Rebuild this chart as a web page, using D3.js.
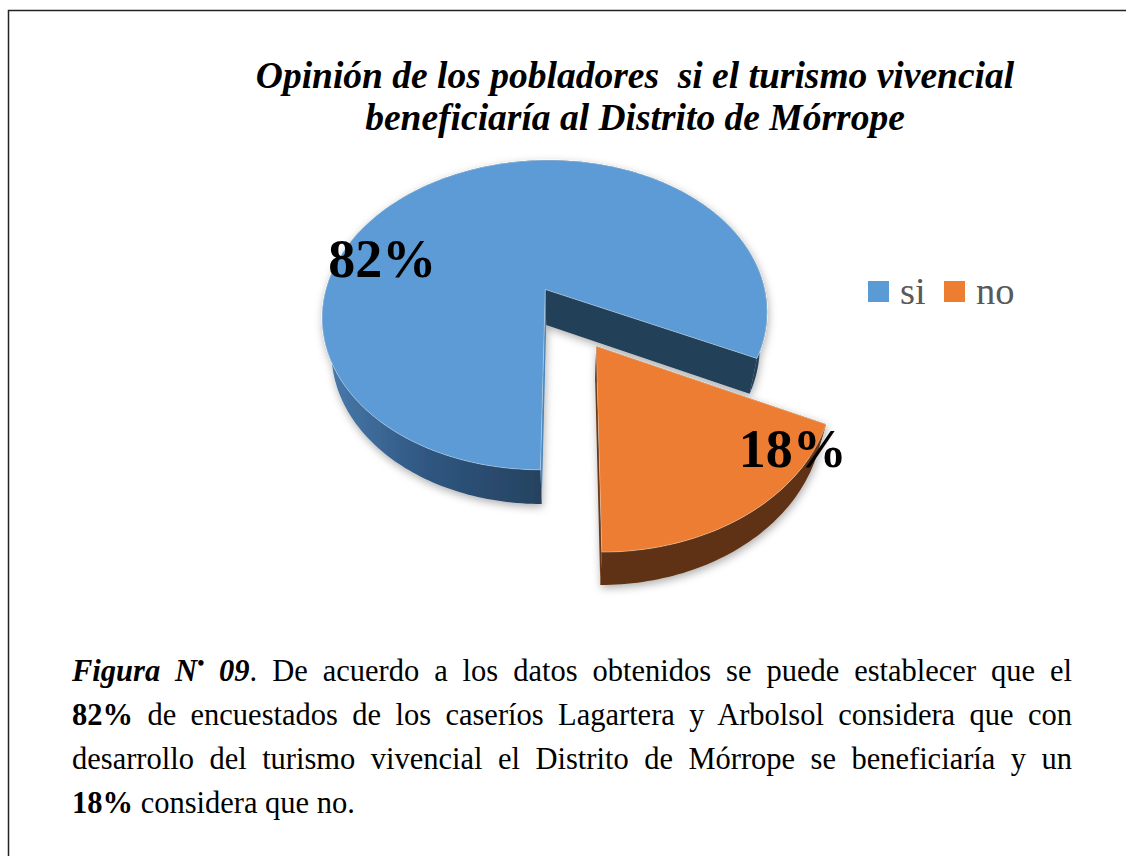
<!DOCTYPE html>
<html>
<head>
<meta charset="utf-8">
<script src="https://cdn.jsdelivr.net/npm/d3@7"></script>
<style>
  body { margin: 0; background: #fff; }
  svg { display: block; font-family: 'Liberation Serif', 'Times New Roman', serif; }
</style>
</head>
<body>
<svg width="1126" height="856"></svg>
<script>
  const titleLines = ['Opinión de los pobladores  si el turismo vivencial', 'beneficiaría al Distrito de Mórrope'];
  const categories = ['si', 'no'];
  const values = [82, 18];
  const valueLabels = ['82%', '18%'];

  // caption text, split in runs: r = regular, b = bold, bi = bold italic, sup = raised mark
  const captionLines = [
    [['Figura N', 'bi'], ['•', 'sup'], [' 09', 'bi'], ['. De acuerdo a los datos obtenidos se puede establecer que el', 'r']],
    [['82%', 'b'], [' de encuestados de los caseríos Lagartera y Arbolsol considera que con', 'r']],
    [['desarrollo del turismo vivencial el Distrito de Mórrope se beneficiaría y un', 'r']],
    [['18%', 'b'], [' considera que no.', 'r']]
  ];

  const topColors = ['#5b9bd5', '#ed7d31'];
  const wallColors = ['url(#blueWall)', '#5e3214'];
  const cutColors = ['#243f58', '#6a3816'];

  const svg = d3.select('svg');
  const width = +svg.attr('width');
  const height = +svg.attr('height');

  //frame round the figure (runs off the right and bottom)
  svg.append('rect')
    .attr('x', 8.5).attr('y', 10.5)
    .attr('width', width + 100).attr('height', height + 100)
    .attr('fill', 'none').attr('stroke', '#222').attr('stroke-width', 1.5);

  const defs = svg.append('defs');
  const grad = defs.append('linearGradient')
    .attr('id', 'blueWall')
    .attr('gradientUnits', 'userSpaceOnUse')
    .attr('x1', 320).attr('x2', 560).attr('y1', 0).attr('y2', 0);
  grad.append('stop').attr('offset', '0%').attr('stop-color', '#4a7cae');
  grad.append('stop').attr('offset', '45%').attr('stop-color', '#2f5680');
  grad.append('stop').attr('offset', '100%').attr('stop-color', '#243f5a');

  const shadow = defs.append('filter').attr('id', 'shadow')
    .attr('x', '-20%').attr('y', '-20%').attr('width', '140%').attr('height', '140%');
  shadow.append('feDropShadow')
    .attr('dx', 1).attr('dy', 3).attr('stdDeviation', 4)
    .attr('flood-color', '#000').attr('flood-opacity', 0.32);

  //Title
  svg.append('g').selectAll('text').data(titleLines)
    .enter().append('text')
      .attr('x', 635)
      .attr('y', (d, i) => 88 + i * 42)
      .attr('text-anchor', 'middle')
      .attr('font-size', 37.5)
      .attr('font-weight', 'bold')
      .attr('font-style', 'italic')
      .attr('xml:space', 'preserve')
      .style('white-space', 'pre')
      .text(d => d);

  // 3d pie: a tilted disc seen with some perspective
  const cam = { cx: 570, cy: 317, s: 226, tilt: 45 * Math.PI / 180, persp: 0.24 };
  const depth = 0.23;     //disc thickness (radius = 1)
  const explode = 0.21;   //each slice pulled out along its mid angle

  const project = (X, Y, Z) => {
    const c = Math.cos(cam.tilt), sn = Math.sin(cam.tilt);
    const w = 1 + cam.persp * (Z * c - Y * sn);
    return [cam.cx + cam.s * X / w, cam.cy - cam.s * (Z * sn + Y * c) / w];
  };

  const pie = d3.pie().sort(null).value(d => d)
    .startAngle(Math.PI).endAngle(3 * Math.PI);
  const arcs = pie(values);

  const line = d3.line();
  const poly = pts => line(pts) + 'Z';

  const slices = arcs.map((a, i) => {
    const mid = (a.startAngle + a.endAngle) / 2;
    const ox = explode * Math.sin(mid), oz = explode * Math.cos(mid);
    const pt = (ang, r, Y) => project(ox + r * Math.sin(ang), Y, oz + r * Math.cos(ang));
    const n = Math.max(8, Math.round((a.endAngle - a.startAngle) / 0.02));
    const angs = d3.range(n + 1).map(k => a.startAngle + (a.endAngle - a.startAngle) * k / n);
    const topArc = angs.map(t => pt(t, 1, 0));
    const botArc = angs.map(t => pt(t, 1, -depth));
    const cut = ang => poly([pt(ang, 0, 0), pt(ang, 1, 0), pt(ang, 1, -depth), pt(ang, 0, -depth)]);
    return {
      i, oz, pt,
      outer: poly(topArc.concat(botArc.reverse())),
      cutStart: cut(a.startAngle),
      cutEnd: cut(a.endAngle),
      top: poly([pt(0, 0, 0)].concat(topArc))
    };
  });

  // farther slice first
  const pieG = svg.append('g');
  slices.slice().sort((a, b) => b.oz - a.oz).forEach(sl => {
    const g = pieG.append('g').attr('filter', 'url(#shadow)');
    g.append('path').attr('d', sl.outer).attr('fill', wallColors[sl.i]);
    g.append('path').attr('d', sl.cutStart).attr('fill', sl.i === 0 ? '#4d86bb' : cutColors[1]);
    g.append('path').attr('d', sl.cutEnd).attr('fill', cutColors[sl.i === 0 ? 0 : 1]);
    g.append('path').attr('d', sl.top)
      .attr('fill', topColors[sl.i])
      .attr('stroke', 'rgba(255,255,255,0.35)')
      .attr('stroke-width', 1)
      .attr('stroke-linejoin', 'round');
  });

  //value labels, placed along each slice's top face
  const labelAt = [0.356, 0.167];
  const labelR = [0.8, 0.93];
  pieG.selectAll('text.value').data(arcs)
    .enter().append('text')
      .attr('class', 'value')
      .each(function (a, i) {
        const ang = a.startAngle + (a.endAngle - a.startAngle) * labelAt[i];
        const p = slices[i].pt(ang, labelR[i], 0);
        d3.select(this).attr('x', p[0]).attr('y', p[1] + 18);
      })
      .attr('text-anchor', 'middle')
      .attr('font-size', 54)
      .attr('font-weight', 'bold')
      .attr('fill', '#000')
      .text((d, i) => valueLabels[i]);

  //Legend
  const legendX = d3.scalePoint().domain(categories).range([868, 944]);
  const legend = svg.append('g').selectAll('g').data(categories)
    .enter().append('g')
      .attr('transform', d => `translate(${legendX(d)},281)`);
  legend.append('rect')
    .attr('width', 21).attr('height', 21)
    .attr('fill', (d, i) => topColors[i]);
  legend.append('text')
    .attr('x', 32).attr('y', 23)
    .attr('font-size', 38.5)
    .attr('fill', '#595959')
    .text(d => d);

  //Caption paragraph, justified to the text block
  const capLeft = 72, capWidth = 1000, capSize = 30.5;
  captionLines.forEach((runs, li) => {
    const t = svg.append('text')
      .attr('x', capLeft)
      .attr('y', 681 + li * 44)
      .attr('font-size', capSize)
      .attr('fill', '#000');
    let raised = false;
    runs.forEach(([txt, kind]) => {
      const ts = t.append('tspan').text(txt);
      if (kind === 'b' || kind === 'bi' || kind === 'sup') ts.attr('font-weight', 'bold');
      if (kind === 'bi' || kind === 'sup') ts.attr('font-style', 'italic');
      if (kind === 'sup') {
        ts.attr('font-size', 20).attr('dy', -11);
        raised = true;
      } else if (raised) {
        ts.attr('dy', 11);
        raised = false;
      }
    });
    if (li < captionLines.length - 1) {
      const natural = t.node().getComputedTextLength();
      const spaces = runs.map(r => r[0]).join('').split(' ').length - 1;
      t.attr('word-spacing', (capWidth - natural) / spaces);
    }
  });
</script>
</body>
</html>
